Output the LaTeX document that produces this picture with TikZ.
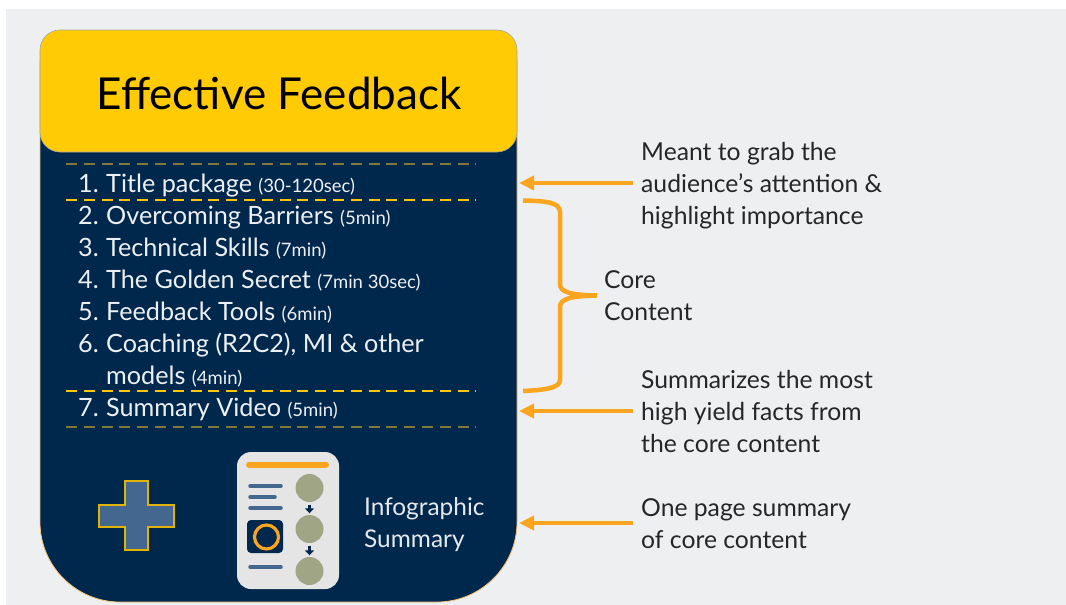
\documentclass[tikz,border=0pt]{standalone}
\usepackage{fontspec}
\setmainfont{Lato}
\usetikzlibrary{arrows.meta}
\definecolor{bgc}{HTML}{EEEFF1}
\definecolor{navy}{HTML}{00274C}
\definecolor{gold}{HTML}{FFCB05}
\definecolor{orng}{HTML}{F9A51F}
\definecolor{olivedash}{HTML}{7F7A3A}
\definecolor{sage}{HTML}{A0A585}
\definecolor{slateb}{HTML}{44678F}
\newcommand\smalltxt{\fontsize{18.5}{18.5}\selectfont}
\tikzset{
 listtext/.style={anchor=base west,inner sep=0pt,text=white!93!navy,font=\fontsize{25.2}{25.2}\selectfont},
 sidetext/.style={anchor=base west,inner sep=0pt,text=black!85,font=\fontsize{24.7}{24.7}\selectfont},
 arrowline/.style={draw=orng,line width=4.8pt,-{Triangle[length=15pt,width=14pt]}},
 icline/.style={draw=slateb,line width=3.5pt,line cap=round},
 sagedot/.style={circle,fill=sage,minimum size=28pt,inner sep=0pt},
 dashy/.style={line width=2pt,dash pattern=on 11pt off 6.8pt},
 minidown/.style={navy,line width=2.5pt,shorten <=2.5pt,shorten >=1.5pt,-{Triangle[length=5pt,width=9pt]}},
 infotext/.style={anchor=base west,inner sep=0pt,text=white!90!navy,font=\fontsize{24.4}{24.4}\selectfont},
}
\begin{document}
\begin{tikzpicture}[x=1pt,y=-1pt]
\useasboundingbox (0,0) rectangle (1066,605);
\fill[bgc] (6,9) rectangle (1066,605);
% panel
\path[fill=navy,draw=orng!60!bgc,line width=.8pt] (40,60) -- (40,522) .. controls (40,566) and (76,602) .. (120,602) -- (437,602) .. controls (481,602) and (517,566) .. (517,522) -- (517,60) -- cycle;
\path[fill=gold,draw=black!35,line width=.6pt] (40,132) -- (40,50) .. controls (40,39) and (49,30) .. (60,30) -- (497,30) .. controls (508,30) and (517,39) .. (517,50) -- (517,132) .. controls (517,143) and (508,152) .. (497,152) -- (60,152) .. controls (49,152) and (40,143) .. (40,132) -- cycle;
\node[inner sep=0pt,text=black,font=\fontsize{44}{44}\selectfont] (title) at (279,93) {Effective Feedback};
% dashes
\draw[dashy,draw=olivedash,line width=2.5pt] (66,164) -- (476,164);
\draw[dashy,draw=gold!90!orng] (66,200) -- (476,200);
\draw[dashy,draw=gold!90!orng] (66,391) -- (476,391);
\draw[dashy,draw=olivedash,line width=2.5pt] (66,427) -- (476,427);
% list
\node[listtext] (n1) at (78,192) {1.};
\node[listtext] (i1) at (106,192) {Title package {\smalltxt(30-120sec)}};
\node[listtext] (n2) at (78,224) {2.};
\node[listtext] (i2) at (106,224) {Overcoming Barriers {\smalltxt(5min)}};
\node[listtext] (n3) at (78,256) {3.};
\node[listtext] (i3) at (106,256) {Technical Skills {\smalltxt(7min)}};
\node[listtext] (n4) at (78,288) {4.};
\node[listtext] (i4) at (106,288) {The Golden Secret {\smalltxt(7min 30sec)}};
\node[listtext] (n5) at (78,320) {5.};
\node[listtext] (i5) at (106,320) {Feedback Tools {\smalltxt(6min)}};
\node[listtext] (n6) at (78,352) {6.};
\node[listtext] (i6) at (106,352) {Coaching (R2C2), MI \& other};
\node[listtext] (i6b) at (106,384) {models {\smalltxt(4min)}};
\node[listtext] (n7) at (78,416) {7.};
\node[listtext] (i7) at (106,416) {Summary Video {\smalltxt(5min)}};
% plus
\path[fill=slateb,draw=gold!88!black,line width=1.5pt] (125,481) -- (148,481) -- (148,505) -- (174,505) -- (174,527) -- (148,527) -- (148,550) -- (125,550) -- (125,527) -- (99,527) -- (99,505) -- (125,505) -- cycle;
% infographic card
\fill[black!10,rounded corners=14pt] (237,452) rectangle (339,589);
\draw[orng,line width=6pt,line cap=round] (249,464.5) -- (326,464.5);
\node[sagedot] (c1) at (309.5,488) {};
\node[sagedot] (c2) at (309.5,529) {};
\node[sagedot] (c3) at (309.5,571) {};
\draw[minidown] (c1) -- (c2);
\draw[minidown] (c2) -- (c3);
\draw[icline] (250,486) -- (281,486);
\draw[icline] (250,497) -- (275,497);
\draw[icline] (250,508) -- (281,508);
\draw[icline] (250,567) -- (281,567);
\fill[navy,rounded corners=4pt] (247,520) rectangle (283,553);
\draw[orng,line width=3.2pt] (266.5,537) circle[radius=12];
\node[infotext] (inf1) at (364,515) {Infographic};
\node[infotext] (inf2) at (364,547) {Summary};
% side text
\node[sidetext] (a1) at (641,160) {Meant to grab the};
\node[sidetext] (a2) at (641,192) {audience’s attention \&};
\node[sidetext] (a3) at (641,224) {highlight importance};
\node[sidetext] (b1) at (604,288) {Core};
\node[sidetext] (b2) at (604,320) {Content};
\node[sidetext] (s1) at (641,388) {Summarizes the most};
\node[sidetext] (s2) at (641,420) {high yield facts from};
\node[sidetext] (s3) at (641,452) {the core content};
\node[sidetext] (o1) at (641,516) {One page summary};
\node[sidetext] (o2) at (641,548) {of core content};
% arrows
\coordinate (p1s) at (633,183); \coordinate (p1e) at (519,183);
\coordinate (p2s) at (633,411); \coordinate (p2e) at (519,411);
\coordinate (p3s) at (633,523); \coordinate (p3e) at (519,523);
\draw[arrowline] (p1s) -- (p1e);
\draw[arrowline] (p2s) -- (p2e);
\draw[arrowline] (p3s) -- (p3e);
% brace
\draw[orng,line width=4.5pt] (523,200.5) .. controls (545,201) and (560,202) .. (560,212) -- (560,284) .. controls (560,292) and (570,295) .. (597,295.5) .. controls (570,296) and (560,299) .. (560,307) -- (560,380) .. controls (560,388) and (545,390) .. (523,391);
\end{tikzpicture}
\end{document}
